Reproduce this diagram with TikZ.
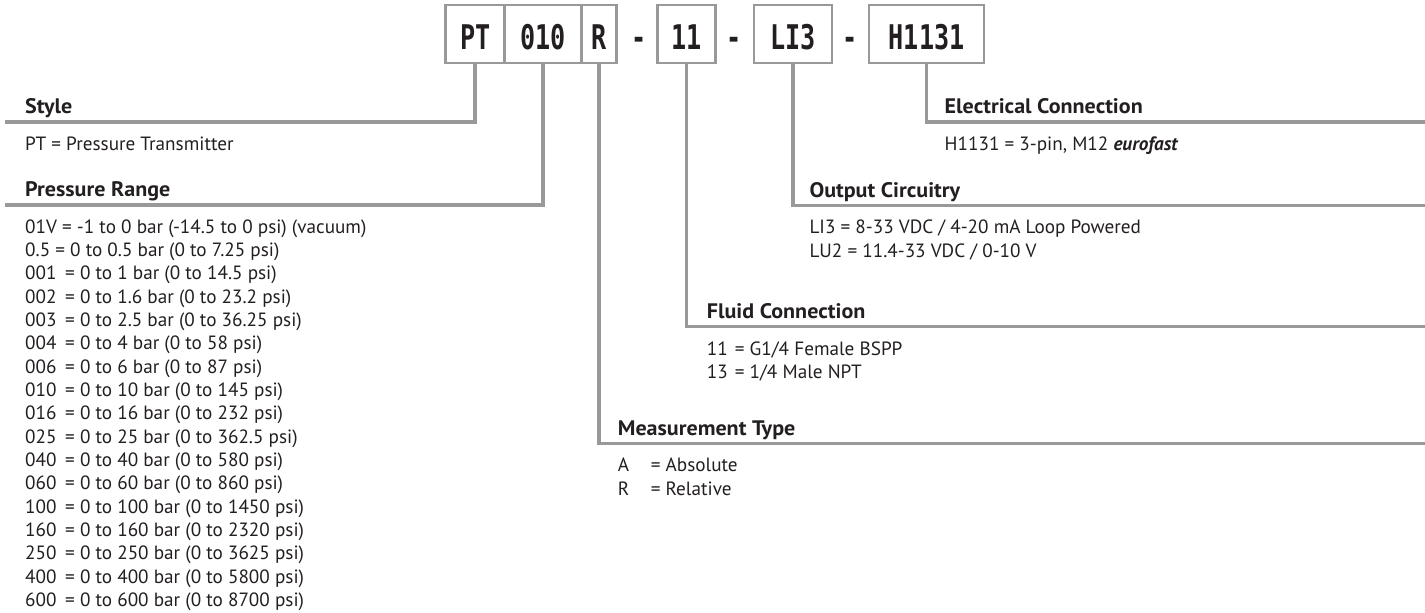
\documentclass[tikz,border=0pt]{standalone}
\usepackage{fontspec}
\setmainfont{PT Sans}
\newfontfamily\headfont[FakeStretch=1.05]{PT Sans}
\newfontfamily\codefont[FakeStretch=0.74]{DejaVu Sans Mono}
\usepackage{tikz}
\usetikzlibrary{positioning, calc}

\definecolor{leadgray}{RGB}{153,153,155}
\definecolor{ink}{RGB}{35,31,32}

\tikzset{
  codebox/.style={draw=leadgray, line width=2.5pt, fill=white, minimum height=58pt,
    inner sep=0pt, text height=30pt, text depth=0pt, text=ink,
    font=\codefont\bfseries\fontsize{34}{34}\selectfont},
  dashsign/.style={inner sep=0pt, text height=30pt, text depth=0pt, text=ink,
    font=\codefont\bfseries\fontsize{34}{34}\selectfont},
  lead/.style={draw=leadgray, line width=3.5pt},
  heading/.style={anchor=base west, inner sep=0pt, text=ink, font=\headfont\bfseries\fontsize{21}{24}\selectfont},
  entry/.style={anchor=base west, inner sep=0pt, text=ink, font=\fontsize{19.2}{23}\selectfont}
}

\begin{document}
\begin{tikzpicture}[x=1pt, y=-1pt]
        \useasboundingbox (0,0) rectangle (1425,613);

        % Lead ends
        \coordinate (styleend) at (5,122);
        \coordinate (rangeend) at (5,205);
        \coordinate (typeend) at (1425,443.5);
        \coordinate (fluidend) at (1425,326.7);
        \coordinate (outpend) at (1425,205.5);
        \coordinate (elecend) at (1425,122);

        % Code Boxes
        \node[codebox, minimum width=59pt] (pt) at (475.2,34) {PT};
        \node[codebox, minimum width=77pt] (rng) at (543.2,34) {010};
        \node[codebox, minimum width=35pt] (typ) at (599.1,34) {R};
        \node[dashsign] (d1) at (638.6,34) {-};
        \node[codebox, minimum width=58pt] (fluid) at (686.6,34) {11};
        \node[dashsign] (d2) at (734.3,34) {-};
        \node[codebox, minimum width=78pt] (outp) at (792.9,34) {LI3};
        \node[dashsign] (d3) at (850,34) {-};
        \node[codebox, minimum width=115pt] (elec) at (926.6,34) {H1131};

        % Leads
        \draw[lead] (pt.south) |- (styleend);
        \draw[lead] (rng.south) |- (rangeend);
        \draw[lead] (typ.south) |- (typeend);
        \draw[lead] (fluid.south) |- (fluidend);
        \draw[lead] (outp.south) |- (outpend);
        \draw[lead] (elec.south) |- (elecend);

        % Style
        \node[heading] (stylehd) at (25,113.5) {Style};
        \node[entry] (style1) at (25,150.3) {PT = Pressure Transmitter};

        % Pressure Range
        \node[heading] (rangehd) at (25,196.5) {Pressure Range};
        \node[entry] (range0) at (25,233.3) {01V = -1 to 0 bar (-14.5 to 0 psi) (vacuum)};
        \node[entry] (range1) at (25,256.6) {0.5 = 0 to 0.5 bar (0 to 7.25 psi)};
        \foreach \code/\span [count=\i from 2] in {
            001/{0 to 1 bar (0 to 14.5 psi)},
            002/{0 to 1.6 bar (0 to 23.2 psi)},
            003/{0 to 2.5 bar (0 to 36.25 psi)},
            004/{0 to 4 bar (0 to 58 psi)},
            006/{0 to 6 bar (0 to 87 psi)},
            010/{0 to 10 bar (0 to 145 psi)},
            016/{0 to 16 bar (0 to 232 psi)},
            025/{0 to 25 bar (0 to 362.5 psi)},
            040/{0 to 40 bar (0 to 580 psi)},
            060/{0 to 60 bar (0 to 860 psi)},
            100/{0 to 100 bar (0 to 1450 psi)},
            160/{0 to 160 bar (0 to 2320 psi)},
            250/{0 to 250 bar (0 to 3625 psi)},
            400/{0 to 400 bar (0 to 5800 psi)},
            600/{0 to 600 bar (0 to 8700 psi)}}
          \node[entry] (range\i) at (25,{233.3+23.33*\i}) {\makebox[40pt][l]{\code}= \span};

        % Electrical Connection
        \node[heading] (elechd) at (944.5,113.5) {Electrical Connection};
        \node[entry] (elec1) at (944.5,150.3) {H1131 = 3-pin, M12 \textbf{\textit{eurofast}}};

        % Output Circuitry
        \node[heading] (outphd) at (809.3,197) {Output Circuitry};
        \node[entry] (outp1) at (809.3,233.8) {LI3 = 8-33 VDC / 4-20 mA Loop Powered};
        \node[entry] (outp2) at (809.3,257.1) {LU2 = 11.4-33 VDC / 0-10 V};

        % Fluid Connection
        \node[heading] (fluidhd) at (706.7,318.2) {Fluid Connection};
        \node[entry] (fluid1) at (706.7,355) {\makebox[28pt][l]{11}= G1/4 Female BSPP};
        \node[entry] (fluid2) at (706.7,378.3) {\makebox[28pt][l]{13}= 1/4 Male NPT};

        % Measurement Type
        \node[heading] (typehd) at (617.7,435) {Measurement Type};
        \node[entry] (type1) at (617.7,471.8) {\makebox[33pt][l]{A}= Absolute};
        \node[entry] (type2) at (617.7,495.1) {\makebox[33pt][l]{R}= Relative};

    \end{tikzpicture}
\end{document}
